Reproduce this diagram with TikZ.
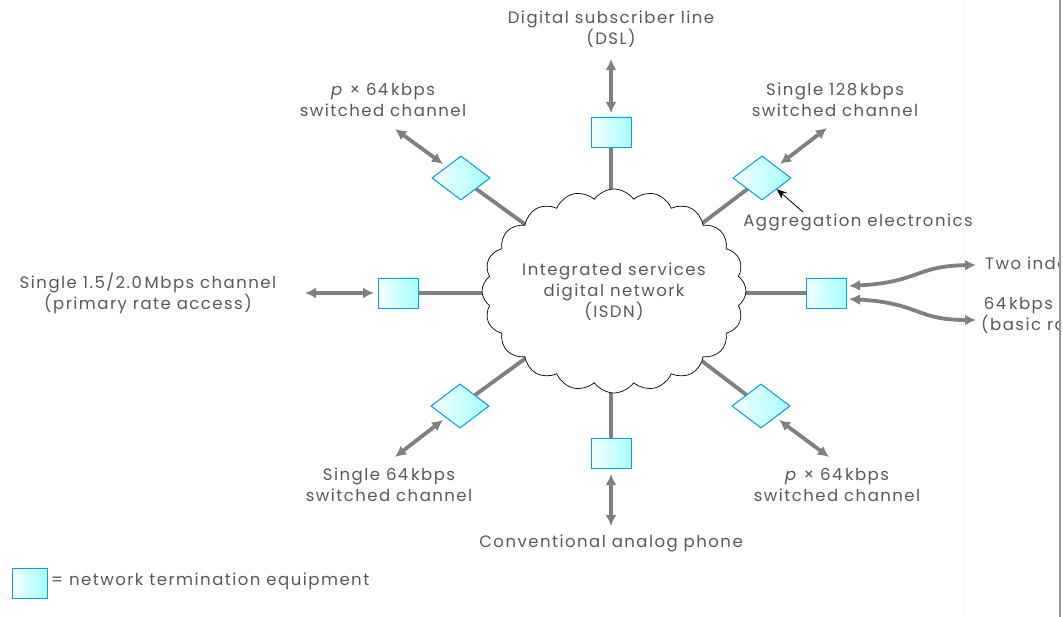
\documentclass[tikz,border=0pt]{standalone}
\usepackage{fontspec}
\setmainfont{Poppins}[LetterSpace=9]
\usetikzlibrary{shapes.geometric,shapes.symbols,arrows.meta}
\begin{document}
\begin{tikzpicture}[x=1pt,y=-1pt,
  lbl/.style={font=\fontsize{16.5}{21}\selectfont, text=black!65, align=center, inner sep=0pt},
  nte/.style={draw=cyan!90!blue, line width=0.9pt, minimum width=40pt, minimum height=30pt,
              inner sep=0pt, left color=cyan!4, right color=cyan!35},
  agg/.style={diamond, draw=cyan!90!blue, line width=0.9pt, minimum width=58pt, minimum height=44pt,
              inner sep=0pt, left color=cyan!4, right color=cyan!35, aspect=1.32},
  link/.style={draw=black!50, line width=3.8pt},
  dbl/.style={draw=black!50, line width=3.8pt, {Latex[length=11pt,width=11pt]}-{Latex[length=11pt,width=11pt]}},
]
\useasboundingbox (0,0) rectangle (1063,617);
\fill[white] (0,0) rectangle (1063,617);
\draw[black!4, line width=0.8pt] (963,0) -- (963,617);

% access links into the network (drawn first, covered by the cloud and the equipment)
\coordinate (ct) at (611,200);
\coordinate (cl) at (495,293);
\coordinate (cr) at (735,293);
\coordinate (cb) at (611,382);
\coordinate (ctl) at (526,225);
\coordinate (ctr) at (700,225);
\coordinate (cbl) at (526,358);
\coordinate (cbr) at (698,358);
\node[nte] (bt) at (611,132) {};
\node[nte] (bl) at (398,293) {};
\node[nte] (br) at (826,293) {};
\node[nte] (bb) at (611,453) {};
\node[agg] (dtl) at (461,178) {};
\node[agg] (dtr) at (762,178) {};
\node[agg] (dbl) at (460,406) {};
\node[agg] (dbr) at (761,406) {};
\draw[link] (bt.center) -- (ct);
\draw[link] (bl.center) -- (cl);
\draw[link] (br.center) -- (cr);
\draw[link] (bb.center) -- (cb);
\draw[link] (dtl.center) -- (ctl);
\draw[link] (dtr.center) -- (ctr);
\draw[link] (dbl.center) -- (cbl);
\draw[link] (dbr.center) -- (cbr);

% ISDN cloud
\node[cloud, draw=black, line width=0.7pt, fill=white, cloud puffs=20, cloud puff arc=110, aspect=1.3,
      minimum width=264pt, minimum height=204pt, inner sep=0pt] (isdn) at (614,291) {};
\node[lbl] (isdnt) at (614,292) {Integrated services\\digital network\\(ISDN)};

% equipment on top of the links
\node[nte] at (bt) {};
\node[nte] at (bl) {};
\node[nte] at (br) {};
\node[nte] at (bb) {};
\node[agg] at (dtl) {};
\node[agg] at (dtr) {};
\node[agg] at (dbl) {};
\node[agg] at (dbr) {};

% user-side connections
\coordinate (at1) at (611,59);
\coordinate (at2) at (611,113);
\coordinate (al1) at (305,293);
\coordinate (al2) at (374,293);
\coordinate (atl1) at (395,129);
\coordinate (atl2) at (443,164);
\coordinate (atr1) at (827,128);
\coordinate (atr2) at (780,164);
\coordinate (abl1) at (443,420);
\coordinate (abl2) at (395,457);
\coordinate (abr1) at (779,420);
\coordinate (abr2) at (829,457);
\coordinate (ab1) at (611,474);
\coordinate (ab2) at (611,526);
\draw[dbl] (at1) -- (at2);
\draw[dbl] (al1) -- (al2);
\draw[dbl] (atl1) -- (atl2);
\draw[dbl] (atr1) -- (atr2);
\draw[dbl] (abl1) -- (abl2);
\draw[dbl] (abr1) -- (abr2);
\draw[dbl] (ab1) -- (ab2);
\coordinate (ar1) at (849,286);
\coordinate (ar2) at (976,265);
\coordinate (ar3) at (849,299);
\coordinate (ar4) at (976,320);
\draw[dbl] (ar1) .. controls (920,282) and (915,266) .. (ar2);
\draw[dbl] (ar3) .. controls (920,303) and (915,320) .. (ar4);

% pointer to the aggregation electronics
\coordinate (ptail) at (803,212);
\draw[black, line width=0.8pt, -{Stealth[length=10pt,width=8pt]}] (ptail) -- (dtr.south east);

% labels
\node[lbl] (tdsl) at (611,29) {Digital subscriber line\\(DSL)};
\node[lbl] (ttl) at (383,100) {\textit{p} × 64\,kbps\\switched channel};
\node[lbl] (ttr) at (835,100) {Single 128\,kbps\\switched channel};
\node[lbl] (tagg) at (858,222) {Aggregation electronics};
\node[lbl] (tl) at (148,293) {Single 1.5/2.0\,Mbps channel\\(primary rate access)};
\node[lbl] (tbl) at (389,485) {Single 64\,kbps\\switched channel};
\node[lbl] (tbr) at (837,485) {\textit{p} × 64\,kbps\\switched channel};
\node[lbl] (tb) at (611,543) {Conventional analog phone};
\begin{scope}
\clip (0,0) rectangle (1058,617);
\node[lbl, anchor=west] (tr1) at (985,265) {Two independent};
\node[lbl, anchor=north west, align=left] (tr2) at (981,297) {\,64\,kbps channels\\(basic rate access)};
\end{scope}

% legend
\node[nte, minimum width=35pt, minimum height=30pt] (key) at (30,583) {};
\node[lbl, anchor=west] (keyt) at (51,581) {= network termination equipment};

% page edge
\draw[black!40, line width=2pt] (1060,0) -- (1060,617);
\end{tikzpicture}
\end{document}
